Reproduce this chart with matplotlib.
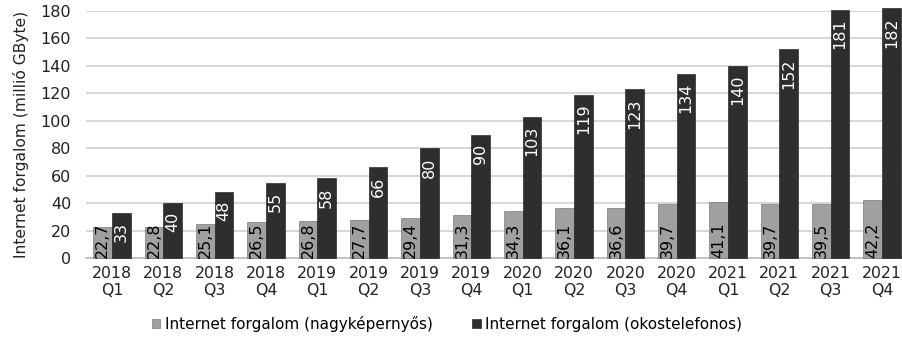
import matplotlib
matplotlib.use("Agg")
import matplotlib.pyplot as plt
import numpy as np

plt.rcParams['font.family'] = ['DejaVu Sans']

quarters = ["2018\nQ1", "2018\nQ2", "2018\nQ3", "2018\nQ4",
            "2019\nQ1", "2019\nQ2", "2019\nQ3", "2019\nQ4",
            "2020\nQ1", "2020\nQ2", "2020\nQ3", "2020\nQ4",
            "2021\nQ1", "2021\nQ2", "2021\nQ3", "2021\nQ4"]
large_screen = [22.7, 22.8, 25.1, 26.5, 26.8, 27.7, 29.4, 31.3,
                34.3, 36.1, 36.6, 39.7, 41.1, 39.7, 39.5, 42.2]
smartphone = [33, 40, 48, 55, 58, 66, 80, 90,
              103, 119, 123, 134, 140, 152, 181, 182]
series_names = ["Internet forgalom (nagyképernyős)",
                "Internet forgalom (okostelefonos)"]
y_label = "Internet forgalom (millió GByte)"

fig = plt.figure(figsize=(9.03, 3.56), dpi=100)
ax = fig.add_axes([86.3/903, 1 - 258/356, 821.3/903, 247/356])

x = np.arange(len(quarters))
w = 0.365
grey = "#a0a0a0"
dark = "#2e2e2e"
b1 = ax.bar(x - w/2, large_screen, w, color=grey, edgecolor="#666666", linewidth=0.4,
            label=series_names[0], zorder=3, clip_on=False)
b2 = ax.bar(x + w/2, smartphone, w, color=dark, edgecolor="#111111", linewidth=0.4,
            label=series_names[1], zorder=3, clip_on=False)

def fmt(v):
    return (f"{v:g}").replace(".", ",")

for rect, v in zip(b1, large_screen):
    ax.text(rect.get_x() + rect.get_width()/2, 0.0, fmt(v), rotation=90,
            ha="center", va="bottom", fontsize=11.5, color="black", zorder=4)
for rect, v in zip(b2, smartphone):
    ax.text(rect.get_x() + rect.get_width()/2, v - 6.5, fmt(v), rotation=90,
            ha="center", va="top", fontsize=11.5, color="white", zorder=4)

ax.set_xlim(-0.5, len(quarters) - 0.5)
ax.set_ylim(0, 180)
ax.set_yticks(np.arange(0, 181, 20))
ax.set_xticks(x)
ax.set_xticklabels(quarters, fontsize=11.3, color="#222222", linespacing=1.15)
ax.tick_params(axis="y", labelsize=11.5, colors="#222222", length=0, pad=11)
ax.tick_params(axis="x", length=0, pad=6)
ax.grid(axis="y", color="#cfcfcf", linewidth=1.2, zorder=0)
for s in ["top", "right", "left"]:
    ax.spines[s].set_visible(False)
ax.spines["bottom"].set_color("#bbbbbb")
ax.spines["bottom"].set_linewidth(1.2)
ax.set_ylabel(y_label, fontsize=11.2, color="#222222", labelpad=8)

fig.legend(handles=[b1, b2], loc="center", bbox_to_anchor=(447/903, 1 - 324/356),
           ncol=2, frameon=False, fontsize=11, handlelength=0.55, handleheight=0.55,
           handletextpad=0.3, columnspacing=2.6)

fig.savefig("out.png", dpi=100, facecolor="white")
